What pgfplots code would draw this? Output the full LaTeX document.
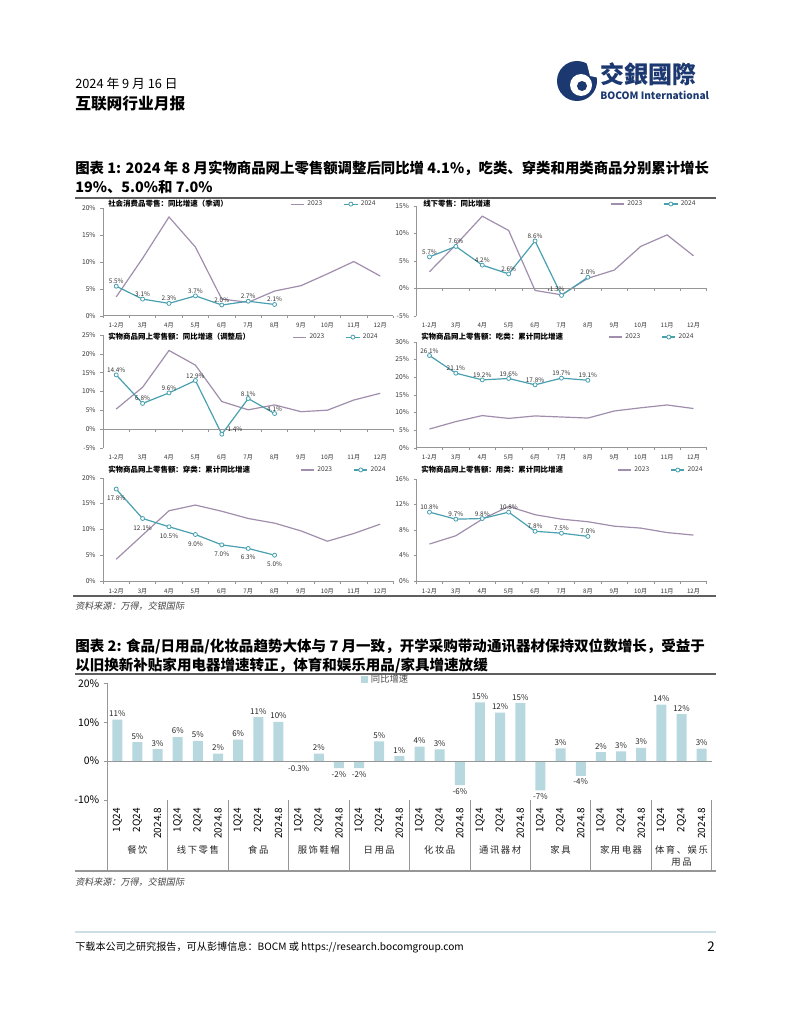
\documentclass[border=0pt]{standalone}
\usepackage{fontspec}
\setmainfont{Noto Sans CJK SC}
\newfontfamily\slnt{Noto Sans CJK SC}[FakeSlant=0.2]
\usepackage{pgfplots}
\pgfplotsset{compat=1.18}

\definecolor{c23}{RGB}{160,142,172}
\definecolor{c24}{RGB}{72,160,176}
\definecolor{axgray}{RGB}{150,150,150}
\definecolor{barblue}{RGB}{183,216,222}
\definecolor{navy}{RGB}{28,56,112}
\definecolor{rulegray}{RGB}{95,95,95}
\definecolor{footblue}{RGB}{205,222,230}

\newcommand\zeroline{%
  \draw[axgray,line width=0.5pt] (axis cs:-0.5,0) -- (axis cs:10.5,0);
  \pgfplotsinvokeforeach{-0.5,0.5,...,10.5}{\draw[axgray,line width=0.5pt] (axis cs:##1,0) -- ++(0pt,-2pt);}}

\pgfplotsset{
  mini/.style={
    scale only axis, width=217.8pt, anchor=south west,
    xmin=-0.5, xmax=10.5,
    axis x line*=bottom, axis y line*=left,
    x axis line style={draw=none},
    y axis line style={axgray,line width=0.5pt},
    xtick={0,...,10},
    xticklabels={1-2月,3月,4月,5月,6月,7月,8月,9月,10月,11月,12月},
    major x tick style={draw=none},
    ytick style={axgray},
    tick align=outside, major tick length=2pt,
    yticklabel={\pgfmathprintnumber{\tick}\%},
    yticklabel style={font=\fontsize{5}{6}\selectfont, text=black!80},
    xticklabel style={font=\fontsize{4.6}{5}\selectfont, text=black!80},
    /pgf/number format/assume math mode=true,
    clip=false,
    legend columns=2,
    legend style={draw=none, fill=none, anchor=west, inner sep=0pt,
      font=\fontsize{5}{6}\selectfont, text=black!75,
      /tikz/every even column/.append style={column sep=14pt}},
    legend image code/.code={\draw[##1,mark repeat=2,mark phase=2] plot coordinates {(0pt,0pt)(5pt,0pt)(10pt,0pt)};},
  },
  l23/.style={c23, line width=0.9pt, mark=none},
  l24/.style={c24, line width=0.9pt, mark=*, mark size=1.5pt,
    mark options={fill=white, draw=c24, solid, line width=0.6pt},
    nodes near coords, point meta=explicit symbolic,
    every node near coord/.append style={font=\fontsize{4.8}{5}\selectfont, text=black!80, inner sep=1.5pt}},
  lab24/.style={draw=none, mark=none, forget plot,
    nodes near coords, point meta=explicit symbolic,
    every node near coord/.append style={font=\fontsize{4.8}{5}\selectfont, text=black!80, inner sep=1.5pt}},
}

\newcommand\ctitle[3]{\node[anchor=west,inner sep=0,font=\fontsize{5.6}{6}\selectfont\bfseries] at (#1,#2) {#3};}

\begin{document}
\begin{tikzpicture}
\path[use as bounding box] (0,0) rectangle (593.25pt,-768pt);

\begin{scope}[x=0.75pt,y=-0.75pt]
% header
\node[anchor=west,inner sep=0,font=\fontsize{9.6}{10}\selectfont] at (75,84) {2024 年 9 月 16 日};
\node[anchor=west,inner sep=0,font=\fontsize{11.8}{12}\selectfont\bfseries] at (75,104) {互联网行业月报};
\fill[navy] (577,81) circle (20);
\fill[white] (581,85) circle (11);
\fill[navy] (582,86) circle (5);
\fill[white] (586,60) -- (600,60) -- (600,78) -- (590,76) -- cycle;
\node[anchor=west,inner sep=0,text=navy,font=\fontsize{18}{19}\selectfont\bfseries] at (600,74) {交銀國際};
\node[anchor=west,inner sep=0,text=navy,font=\fontsize{7.6}{8}\selectfont\bfseries] at (600,95) {BOCOM International};

% title 1
\node[anchor=west,inner sep=0,font=\fontsize{10.8}{12}\selectfont\bfseries] at (75,168) {图表 1: 2024 年 8 月实物商品网上零售额调整后同比增 4.1\%，吃类、穿类和用类商品分别累计增长};
\node[anchor=west,inner sep=0,font=\fontsize{10.8}{12}\selectfont\bfseries] at (75,187) {19\%、5.0\%和 7.0\%};
\draw[rulegray,line width=1.5pt] (75,198) -- (716,198);

% chart titles
\ctitle{108}{204}{社会消费品零售：同比增速（季调）}
\ctitle{423}{204}{线下零售：同比增速}
\ctitle{108}{337}{实物商品网上零售额：同比增速（调整后）}
\ctitle{421}{337}{实物商品网上零售额：吃类：累计同比增速}
\ctitle{108}{470}{实物商品网上零售额：穿类：累计同比增速}
\ctitle{421}{470}{实物商品网上零售额：用类：累计同比增速}

\draw[rulegray,line width=1.2pt] (73,596) -- (716,596);
\node[anchor=west,inner sep=0,font=\fontsize{6.8}{7}\selectfont\slnt,text=black!75] at (75,606) {资料来源：万得，交银国际};

% title 2
\node[anchor=west,inner sep=0,font=\fontsize{10.9}{12}\selectfont\bfseries] at (75,646) {图表 2: 食品/日用品/化妆品趋势大体与 7 月一致，开学采购带动通讯器材保持双位数增长，受益于};
\node[anchor=west,inner sep=0,font=\fontsize{10.9}{12}\selectfont\bfseries] at (75,665) {以旧换新补贴家用电器增速转正，体育和娱乐用品/家具增速放缓};
\draw[rulegray,line width=1.5pt] (75,674) -- (716,674);

\draw[axgray,line width=1pt] (75,871) -- (716,871);
\node[anchor=west,inner sep=0,font=\fontsize{6.8}{7}\selectfont\slnt,text=black!75] at (75,882) {资料来源：万得，交银国际};

% footer
\draw[footblue,line width=1.5pt] (75,932) -- (716,932);
\node[anchor=west,inner sep=0,font=\fontsize{7.6}{8}\selectfont] at (75,947) {下载本公司之研究报告，可从彭博信息：BOCM 或 https://research.bocomgroup.com};
\node[anchor=east,inner sep=0,font=\fontsize{10}{11}\selectfont] at (715,947) {2};
\end{scope}

% ---- chart 1
\begin{axis}[mini, at={(77.25pt,-236.8pt)}, height=80.5pt,
  ymin=0, ymax=20, ytick={0,5,...,20}, legend style={at={(0.644,1.04)}}]
\addplot[l23] coordinates {(0,3.5)(1,10.7)(2,18.4)(3,12.8)(4,3.1)(5,2.5)(6,4.6)(7,5.6)(8,7.8)(9,10.1)(10,7.4)};
\addlegendentry{2023}
\addplot[l24] coordinates {(0,5.5)[5.5\%] (1,3.1)[3.1\%] (2,2.3)[2.3\%] (3,3.7)[3.7\%] (4,2.0)[2.0\%] (5,2.7)[2.7\%] (6,2.1)[2.1\%]};
\addlegendentry{2024}
\zeroline
\end{axis}

% ---- chart 2
\begin{axis}[mini, at={(312.2pt,-236.8pt)}, height=82.5pt,
  ymin=-5, ymax=15, ytick={-5,0,...,15}, legend style={at={(0.667,1.015)}}]
\addplot[l23] coordinates {(0,3.0)(1,7.9)(2,13.1)(3,10.5)(4,-0.4)(5,-1.2)(6,1.8)(7,3.3)(8,7.6)(9,9.7)(10,5.9)};
\addlegendentry{2023}
\addplot[l24] coordinates {(0,5.7)[5.7\%] (1,7.6)[7.6\%] (2,4.2)[4.2\%] (3,2.6)[2.6\%] (4,8.6)[8.6\%] (5,-1.3)[] (6,2.0)[2.0\%]};
\addlegendentry{2024}
\addplot[lab24, every node near coord/.append style={xshift=-4pt, yshift=1pt}] coordinates {(5,-1.3)[-1.3\%]};
\zeroline
\end{axis}

% ---- chart 3
\begin{axis}[mini, at={(77.25pt,-335.8pt)}, height=84.5pt,
  ymin=-5, ymax=25, ytick={-5,0,...,25}, legend style={at={(0.651,0.982)}}]
\addplot[l23] coordinates {(0,5.3)(1,11.1)(2,20.9)(3,17.0)(4,7.3)(5,5.1)(6,6.4)(7,4.6)(8,5.0)(9,7.7)(10,9.5)};
\addlegendentry{2023}
\addplot[l24] coordinates {(0,14.4)[14.4\%] (1,6.8)[6.8\%] (2,9.6)[9.6\%] (3,12.9)[12.9\%] (4,-1.4)[] (5,8.1)[8.1\%] (6,4.1)[4.1\%]};
\addlegendentry{2024}
\addplot[lab24, every node near coord/.append style={xshift=9pt}] coordinates {(4,-1.4)[-1.4\%]};
\zeroline
\end{axis}

% ---- chart 4
\begin{axis}[mini, at={(312.2pt,-335.8pt)}, height=79.5pt,
  ymin=0, ymax=30, ytick={0,5,...,30}, legend style={at={(0.66,1.044)}}]
\addplot[l23] coordinates {(0,5.3)(1,7.4)(2,9.1)(3,8.3)(4,9.0)(5,8.7)(6,8.4)(7,10.4)(8,11.3)(9,12.1)(10,11.1)};
\addlegendentry{2023}
\addplot[l24] coordinates {(0,26.1)[26.1\%] (1,21.1)[21.1\%] (2,19.2)[19.2\%] (3,19.6)[19.6\%] (4,17.8)[17.8\%] (5,19.7)[19.7\%] (6,19.1)[19.1\%]};
\addlegendentry{2024}
\zeroline
\end{axis}

% ---- chart 5
\begin{axis}[mini, at={(77.25pt,-435.75pt)}, height=77.5pt,
  ymin=0, ymax=20, ytick={0,5,...,20}, legend style={at={(0.678,1.075)}}]
\addplot[l23] coordinates {(0,4.2)(1,8.9)(2,13.6)(3,14.7)(4,13.5)(5,12.1)(6,11.2)(7,9.7)(8,7.7)(9,9.2)(10,11.0)};
\addlegendentry{2023}
\addplot[l24, every node near coord/.append style={yshift=-10.5pt}] coordinates {(0,17.8)[17.8\%] (1,12.1)[12.1\%] (2,10.5)[10.5\%] (3,9.0)[9.0\%] (4,7.0)[7.0\%] (5,6.3)[6.3\%] (6,5.0)[5.0\%]};
\addlegendentry{2024}
\zeroline
\end{axis}

% ---- chart 6
\begin{axis}[mini, at={(312.2pt,-435.75pt)}, height=76.5pt,
  ymin=0, ymax=16, ytick={0,4,...,16}, legend style={at={(0.691,1.088)}}]
\addplot[l23] coordinates {(0,5.8)(1,7.1)(2,9.7)(3,11.7)(4,10.4)(5,9.7)(6,9.3)(7,8.6)(8,8.3)(9,7.6)(10,7.2)};
\addlegendentry{2023}
\addplot[l24] coordinates {(0,10.8)[10.8\%] (1,9.7)[9.7\%] (2,9.8)[9.8\%] (3,10.8)[10.8\%] (4,7.8)[7.8\%] (5,7.5)[7.5\%] (6,7.0)[7.0\%]};
\addlegendentry{2024}
\zeroline
\end{axis}

% ---- bar chart
\begin{axis}[scale only axis, width=453.4pt, height=87.5pt,
  at={(80.4pt,-600pt)}, anchor=south west,
  xmin=-0.5, xmax=29.5, ymin=-10, ymax=20, ytick={-10,0,10,20},
  axis x line*=bottom, axis y line*=left,
  x axis line style={draw=none},
  y axis line style={axgray,line width=0.6pt},
  ytick style={axgray}, major x tick style={draw=none},
  tick align=outside, major tick length=2.5pt,
  yticklabel={\pgfmathprintnumber{\tick}\%},
  /pgf/number format/assume math mode=true,
  yticklabel style={font=\fontsize{7.8}{8}\selectfont},
  xtick={0,...,29},
  xticklabels={1Q24,2Q24,2024.8,1Q24,2Q24,2024.8,1Q24,2Q24,2024.8,1Q24,2Q24,2024.8,1Q24,2Q24,2024.8,
               1Q24,2Q24,2024.8,1Q24,2Q24,2024.8,1Q24,2Q24,2024.8,1Q24,2Q24,2024.8,1Q24,2Q24,2024.8},
  xticklabel style={rotate=90, anchor=east, font=\fontsize{7.5}{8}\selectfont},
  ybar, bar width=7.5pt, bar shift=0pt,
  clip=false,
  nodes near coords, point meta=explicit symbolic,
  every node near coord/.append style={font=\fontsize{6}{7}\selectfont, text=black!85, inner sep=2pt},
  legend style={draw=none, fill=none, at={(0.42,1.03)}, anchor=west, inner sep=0pt,
    font=\fontsize{7}{8}\selectfont, text=black!70},
  legend image code/.code={\fill[barblue] (0pt,-2.6pt) rectangle (5.2pt,2.6pt);},
]
\addplot[fill=barblue, draw=none] coordinates {
  (0,10.7)[11\%] (1,4.9)[5\%] (2,3.1)[3\%] (3,6.2)[6\%] (4,5.2)[5\%] (5,1.9)[2\%]
  (6,5.5)[6\%] (7,11.3)[11\%] (8,10.1)[10\%] (10,1.9)[2\%] (13,5.1)[5\%] (14,1.3)[1\%]
  (15,3.7)[4\%] (16,3.0)[3\%] (18,15.1)[15\%] (19,12.5)[12\%] (20,14.9)[15\%] (22,3.3)[3\%]
  (24,2.3)[2\%] (25,2.5)[3\%] (26,3.4)[3\%] (27,14.5)[14\%] (28,12.1)[12\%] (29,3.2)[3\%]};
\addlegendentry{同比增速}
\addplot[fill=barblue, draw=none, forget plot,
  every node near coord/.append style={anchor=north}] coordinates {
  (9,-0.3)[-0.3\%] (11,-1.8)[-2\%] (12,-1.8)[-2\%] (17,-6.2)[-6\%] (21,-7.5)[-7\%] (23,-3.8)[-4\%]};
\draw[axgray,line width=0.6pt] (axis cs:-0.5,0) -- (axis cs:29.5,0);
\draw[axgray,line width=0.6pt] (axis cs:-0.5,-10) -- ++(0pt,-52.5pt);
\pgfplotsinvokeforeach{2.5,5.5,...,29.5}{\draw[axgray,line width=0.6pt] (axis cs:#1,-10) -- ++(0pt,-52.5pt);}
\begin{scope}[every node/.style={font=\fontsize{7}{8}\selectfont, text=black!85, yshift=-37.5pt}]
\node at (axis cs:1,-10) {餐\,饮};
\node at (axis cs:4,-10) {线\,下\,零\,售};
\node at (axis cs:7,-10) {食\,品};
\node at (axis cs:10,-10) {服\,饰\,鞋\,帽};
\node at (axis cs:13,-10) {日\,用\,品};
\node at (axis cs:16,-10) {化\,妆\,品};
\node at (axis cs:19,-10) {通\,讯\,器\,材};
\node at (axis cs:22,-10) {家\,具};
\node at (axis cs:25,-10) {家\,用\,电\,器};
\node at (axis cs:28,-10) {体\,育\,、\,娱\,乐};
\node[yshift=-9pt] at (axis cs:28,-10) {用\,品};
\end{scope}
\end{axis}
\end{tikzpicture}
\end{document}
